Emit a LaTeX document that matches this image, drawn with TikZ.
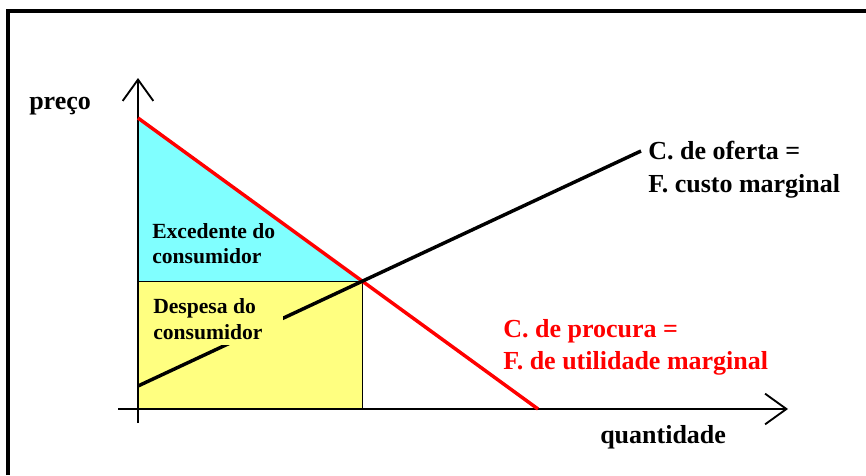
\documentclass[tikz,border=0pt]{standalone}
\usepackage{fontspec}
\setmainfont{Liberation Serif}
\usetikzlibrary{arrows.meta,positioning}
\definecolor{surplusblue}{RGB}{128,255,255}
\definecolor{spendyellow}{RGB}{255,255,128}
\definecolor{demandred}{RGB}{255,0,0}

\begin{document}
\begin{tikzpicture}[
    x=0.75pt,y=-0.75pt,
    axis/.style={line width=1.1pt,-{Straight Barb[length=16pt,width=23pt,line width=1.4pt]}},
    curve/.style={line width=2.6pt},
    biglbl/.style={inner sep=0pt,font=\fontsize{19.5}{24.5}\selectfont\bfseries,align=left},
    smalllbl/.style={inner sep=0pt,font=\fontsize{16.2}{19.2}\selectfont\bfseries,align=left},
  ]
    \useasboundingbox (0,0) rectangle (866,475);
    \draw[line width=2.3pt] (8,475) -- (8,11) -- (866,11);

    \coordinate (O) at (138,409);
    \coordinate (yLow) at (138,423);
    \coordinate (yTip) at (138,78);
    \coordinate (xLow) at (118,409);
    \coordinate (xTip) at (788,409);
    \coordinate (dTop) at (138,118);
    \coordinate (dEnd) at (538,409);
    \coordinate (sLow) at (138,386);
    \coordinate (sEnd) at (641,151);
    \coordinate (eq) at (intersection of dTop--dEnd and sLow--sEnd);

    % areas
    \fill[surplusblue] (dTop) -- (eq) -- (O |- eq) -- cycle;
    \fill[spendyellow] (O |- eq) rectangle (O -| eq);
    \draw[line width=0.8pt] (O |- eq) -- (eq) -- (O -| eq);

    % axes
    \draw[axis] (yLow) -- (yTip);
    \draw[axis] (xLow) -- (xTip);

    % curves
    \draw[curve,demandred] (dTop) -- (dEnd);
    \draw[curve] (sLow) -- (sEnd);

    \node[smalllbl,anchor=north west] (excedente) at (152,223) {Excedente do\\consumidor};
    \node[smalllbl,anchor=north west,fill=spendyellow,inner xsep=0pt,inner ysep=4pt,
      text width=97pt,align=flush left] (despesa) at (153,293) {Despesa do\\consumidor};

    \node[biglbl,anchor=base west] (preco) at (29,109) {preço};
    \node[biglbl,anchor=north west] (oferta) at (648,141) {C. de oferta =\\F. custo marginal};
    \node[biglbl,anchor=north west,text=demandred] (procura) at (503,319) {C. de procura =\\F. de utilidade marginal};
    \node[biglbl,anchor=base west] (quant) at (600,443) {quantidade};
  \end{tikzpicture}
\end{document}
